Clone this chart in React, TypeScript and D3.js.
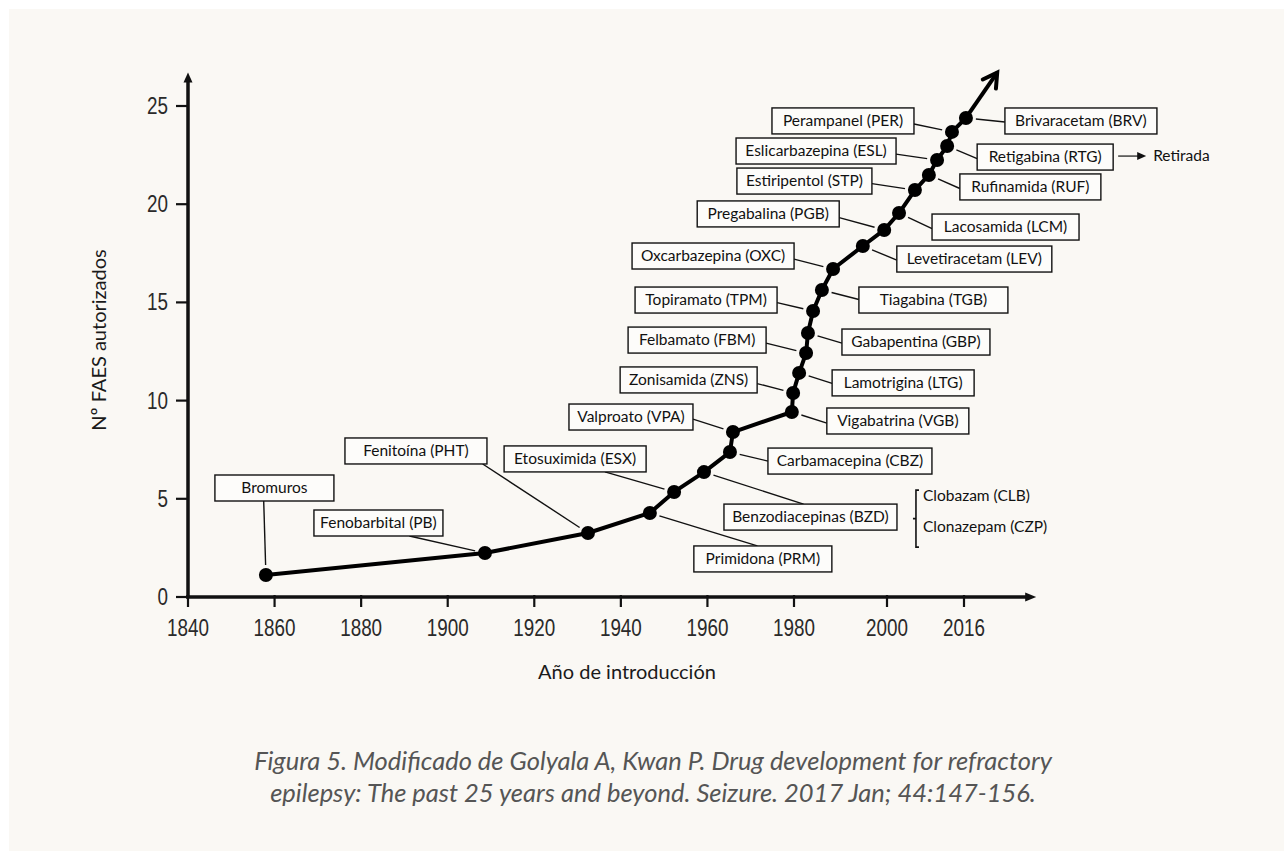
import React from 'react';
import * as d3 from 'd3';

// Antiepileptic drugs, in order of introduction
const drugs = [
  'Bromuros', 'Fenobarbital (PB)', 'Fenitoína (PHT)', 'Primidona (PRM)', 'Etosuximida (ESX)',
  'Benzodiacepinas (BZD)', 'Carbamacepina (CBZ)', 'Valproato (VPA)', 'Vigabatrina (VGB)',
  'Zonisamida (ZNS)', 'Lamotrigina (LTG)', 'Felbamato (FBM)', 'Gabapentina (GBP)',
  'Topiramato (TPM)', 'Tiagabina (TGB)', 'Oxcarbazepina (OXC)', 'Levetiracetam (LEV)',
  'Pregabalina (PGB)', 'Lacosamida (LCM)', 'Estiripentol (STP)', 'Rufinamida (RUF)',
  'Eslicarbazepina (ESL)', 'Retigabina (RTG)', 'Perampanel (PER)', 'Brivaracetam (BRV)',
];
const years = [
  1858, 1908.6, 1932.4, 1946.7, 1952.3, 1959.2, 1965.2, 1965.9, 1979.5, 1979.8, 1981.1,
  1982.6, 1983, 1984.1, 1986, 1988.4, 1994.8, 1999.4, 2002.5, 2005.8, 2008.7, 2010.4,
  2012.5, 2013.5, 2016.4,
];
const counts = [
  1.12, 2.24, 3.26, 4.28, 5.35, 6.36, 7.38, 8.4, 9.42, 10.39, 11.41, 12.42, 13.44, 14.56,
  15.63, 16.7, 17.87, 18.69, 19.55, 20.72, 21.49, 22.25, 22.96, 23.68, 24.39,
];
const xTicks = [1840, 1860, 1880, 1900, 1920, 1940, 1960, 1980, 2000, 2016];
const yTicks = [0, 5, 10, 15, 20, 25];
const trendEnd = [2022.9, 26.7];
const retiredDrug = 'Retigabina (RTG)';
const retiredNote = 'Retirada';
const bzdGroup = 'Benzodiacepinas (BZD)';
const bzdMembers = ['Clobazam (CLB)', 'Clonazepam (CZP)'];
const xTitle = 'Año de introducción';
const yTitle = 'Nº FAES autorizados';
const caption = [
  'Figura 5. Modificado de Golyala A, Kwan P. Drug development for refractory',
  'epilepsy: The past 25 years and beyond. Seizure. 2017 Jan; 44:147-156.',
];

// box placement relative to its point: dx, dy (top-left), width, side the leader attaches, fraction along side
const boxLayout: [number, number, number, string, number][] = [
  [-51, -100, 119, 'b', 0.41],
  [-171, -43, 129, 'b', 0.74],
  [-243, -95, 142, 'b', 0.97],
  [44, 33, 138, 't', 0.46],
  [-170, -46, 142, 'b', 0.71],
  [20, 32, 173, 't', 0.46],
  [38, -4, 164, 'l', 0.5],
  [-164, -28, 124, 'r', 0.58],
  [35, -4, 142, 'l', 0.58],
  [-173, -26, 137, 'r', 0.64],
  [33, -3, 142, 'l', 0.52],
  [-178, -26, 138, 'r', 0.62],
  [34, -4, 148, 'l', 0.54],
  [-178, -24, 142, 'r', 0.6],
  [37, -3, 149, 'l', 0.48],
  [-201, -26, 162, 'r', 0.62],
  [34, 0, 155, 'l', 0.54],
  [-187, -29, 142, 'r', 0.64],
  [33, 1, 147, 'l', 0.56],
  [-178, -22, 135, 'r', 0.6],
  [31, -1, 141, 'l', 0.56],
  [-201, -22, 160, 'r', 0.62],
  [30, -2, 136, 'l', 0.56],
  [-180, -24, 142, 'r', 0.62],
  [39, -10, 152, 'l', 0.54],
];

const BOX_H = 26;
const LABEL_FONT = 'Lato, "Noto Sans", sans-serif';
const TICK_FONT = '"Liberation Sans", Arial, sans-serif';

export default function App() {
  const W = 1284;
  const H = 851;

  const x = d3.scaleLinear().domain([1840, 1980, 2000, 2016]).range([188, 794, 887, 964]);
  const y = d3.scaleLinear().domain([0, 25]).range([597, 106]);

  const pts: [number, number][] = years.map((yr, i) => [x(yr), y(counts[i])]);
  const trendPath = d3.line()(pts) || '';

  // arrow continuing the trend
  const last = pts[pts.length - 1];
  const tip: [number, number] = [x(trendEnd[0]), y(trendEnd[1])];
  const ang = Math.atan2(tip[1] - last[1], tip[0] - last[0]);
  const arm = 16;
  const spread = (30 * Math.PI) / 180;
  const chevron = `M${tip[0] - arm * Math.cos(ang - spread)},${tip[1] - arm * Math.sin(ang - spread)}L${tip[0]},${tip[1]}L${tip[0] - arm * Math.cos(ang + spread)},${tip[1] - arm * Math.sin(ang + spread)}`;

  const x0 = x(1840);
  const y0 = y(0);
  const yTop = y(26.7);
  const xEnd = x(2031);

  const boxes = drugs.map((name, i) => {
    const [px, py] = pts[i];
    const [dx, dy, w, side, f] = boxLayout[i];
    const bx = px + dx;
    const by = py + dy;
    let ax = bx;
    let ay = by;
    if (side === 'b') { ax = bx + w * f; ay = by + BOX_H; }
    if (side === 't') { ax = bx + w * f; ay = by; }
    if (side === 'l') { ax = bx; ay = by + BOX_H * f; }
    if (side === 'r') { ax = bx + w; ay = by + BOX_H * f; }
    const len = Math.hypot(ax - px, ay - py);
    const gap = 10;
    const ex = px + ((ax - px) / len) * gap;
    const ey = py + ((ay - py) / len) * gap;
    return { name, bx, by, w, ax, ay, ex, ey };
  });

  const rtg = boxes.find((b) => b.name === retiredDrug)!;
  const bzd = boxes.find((b) => b.name === bzdGroup)!;
  const brX = bzd.bx + bzd.w + 19;
  const brTop = bzd.by - 14;
  const brBot = bzd.by + 43;

  return (
    <svg width={W} height={H} style={{ position: 'absolute', left: 0, top: 0 }}>
      <rect x={0} y={0} width={W} height={H} fill="#ffffff" />
      <rect x={9} y={9} width={W} height={H} fill="#faf8f4" />

      {/* axes */}
      <g stroke="#111" fill="#111">
        <line x1={x0} y1={y0 + 1} x2={x0} y2={yTop + 8} strokeWidth={3.5} />
        <path d={`M${x0},${yTop}L${x0 - 4.5},${yTop + 10}L${x0 + 4.5},${yTop + 10}Z`} strokeWidth={0} />
        <line x1={x0 - 2} y1={y0} x2={xEnd - 8} y2={y0} strokeWidth={3.5} />
        <path d={`M${xEnd},${y0}L${xEnd - 11},${y0 - 4.5}L${xEnd - 11},${y0 + 4.5}Z`} strokeWidth={0} />
        {xTicks.map((t) => (
          <line key={t} x1={x(t)} x2={x(t)} y1={y0 - 2} y2={y0 + 10} strokeWidth={2.2} />
        ))}
        {yTicks.map((t) => (
          <line key={t} x1={x0 - 12} x2={x0} y1={y(t)} y2={y(t)} strokeWidth={2.2} />
        ))}
      </g>
      <g fill="#2a2a2a" fontFamily={TICK_FONT} fontSize={23}>
        {xTicks.map((t) => (
          <text key={t} transform={`translate(${x(t)},${y0 + 39}) scale(0.82,1)`} textAnchor="middle">
            {t}
          </text>
        ))}
        {yTicks.map((t) => (
          <text key={t} transform={`translate(${x0 - 20},${y(t) + 8}) scale(0.82,1)`} textAnchor="end">
            {t}
          </text>
        ))}
      </g>

      {/* axis titles */}
      <text x={627} y={679} textAnchor="middle" fontFamily={LABEL_FONT} fontSize={20} fill="#1a1a1a">
        {xTitle}
      </text>
      <text
        transform={`translate(106,340) rotate(-90)`}
        textAnchor="middle"
        fontFamily={LABEL_FONT}
        fontSize={20}
        fill="#1a1a1a"
      >
        {yTitle}
      </text>

      {/* leader lines and label boxes */}
      <g>
        {boxes.map((b) => (
          <line key={b.name} x1={b.ax} y1={b.ay} x2={b.ex} y2={b.ey} stroke="#111" strokeWidth={1.4} />
        ))}
        {boxes.map((b) => (
          <g key={b.name}>
            <rect x={b.bx} y={b.by} width={b.w} height={BOX_H} fill="#fdfcfa" stroke="#111" strokeWidth={1.4} />
            <text
              x={b.bx + b.w / 2}
              y={b.by + BOX_H / 2 + 5}
              textAnchor="middle"
              fontFamily={LABEL_FONT}
              fontSize={15.5}
              fill="#111"
            >
              {b.name}
            </text>
          </g>
        ))}
      </g>

      {/* trend line and points */}
      <path d={trendPath} fill="none" stroke="#000" strokeWidth={4} strokeLinejoin="round" />
      <line x1={last[0]} y1={last[1]} x2={tip[0]} y2={tip[1]} stroke="#000" strokeWidth={4} />
      <path d={chevron} fill="none" stroke="#000" strokeWidth={4} strokeLinejoin="miter" strokeLinecap="round" />
      {pts.map((p, i) => (
        <circle key={i} cx={p[0]} cy={p[1]} r={7} fill="#000" />
      ))}

      {/* withdrawn note */}
      <line x1={rtg.bx + rtg.w + 5} x2={rtg.bx + rtg.w + 25} y1={rtg.by + 12} y2={rtg.by + 12} stroke="#111" strokeWidth={1.2} />
      <path
        d={`M${rtg.bx + rtg.w + 33},${rtg.by + 12}L${rtg.bx + rtg.w + 24},${rtg.by + 8}L${rtg.bx + rtg.w + 24},${rtg.by + 16}Z`}
        fill="#111"
      />
      <text x={rtg.bx + rtg.w + 40} y={rtg.by + 17} fontFamily={LABEL_FONT} fontSize={15.5} fill="#111">
        {retiredNote}
      </text>

      {/* benzodiazepine bracket */}
      <path
        d={`M${brX + 3},${brTop}H${brX}V${brBot}H${brX + 3}M${brX},${(brTop + brBot) / 2}H${brX - 3}`}
        fill="none"
        stroke="#111"
        strokeWidth={1.6}
      />
      {bzdMembers.map((m, i) => (
        <text key={m} x={brX + 7} y={brTop + 11 + i * 31} fontFamily={LABEL_FONT} fontSize={15.5} fill="#111">
          {m}
        </text>
      ))}

      {/* caption */}
      <g fontFamily={LABEL_FONT} fontStyle="italic" fontSize={25.5} fill="#555" textAnchor="middle">
        {caption.map((c, i) => (
          <text key={i} x={653} y={770 + i * 32}>
            {c}
          </text>
        ))}
      </g>
    </svg>
  );
}
